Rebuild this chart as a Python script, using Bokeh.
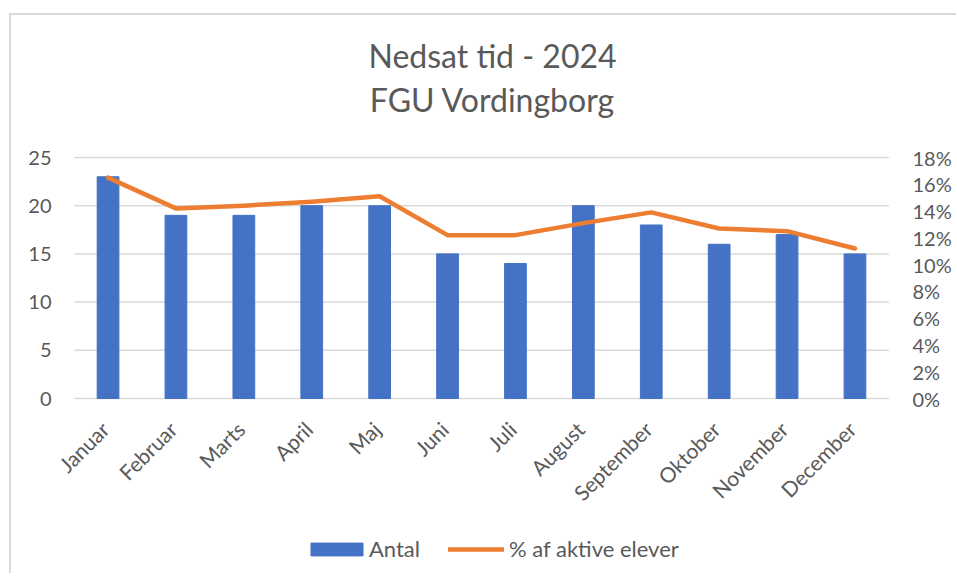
import math
from bokeh.plotting import figure
from bokeh.models import (Range1d, FactorRange, LinearAxis, FixedTicker, NumeralTickFormatter,
                          Legend, LegendItem, Label, ColumnDataSource)
from bokeh.core.properties import value
from bokeh.embed import file_html
from bokeh.resources import INLINE

months = ["Januar", "Februar", "Marts", "April", "Maj", "Juni", "Juli", "August",
          "September", "Oktober", "November", "December"]
antal = [23, 19, 19, 20, 20, 15, 14, 20, 18, 16, 17, 15]
pct = [0.165, 0.142, 0.144, 0.147, 0.151, 0.122, 0.122, 0.131, 0.139, 0.127, 0.125, 0.112]
left_ticks = [0, 5, 10, 15, 20, 25]
right_ticks = [0, 0.02, 0.04, 0.06, 0.08, 0.10, 0.12, 0.14, 0.16, 0.18]
title1 = "Nedsat tid - 2024"
title2 = "FGU Vordingborg"

FONT = "Lato"
GREY = "#595959"

# layout (pixels): frame spans the full height; value axis 0 at y=398, top tick at y=157
H = 573
Y0, YTOP = 398, 157
units_per_px = left_ticks[-1] / (Y0 - YTOP)
lo = -(H - Y0) * units_per_px
hi = Y0 * units_per_px
k = right_ticks[-1] / left_ticks[-1]

src = ColumnDataSource(dict(m=months, antal=antal, pct=pct))

xr = FactorRange(factors=months, range_padding=0.259, range_padding_units="absolute")
p = figure(x_range=xr, y_range=Range1d(lo, hi), frame_width=850, frame_height=H,
           output_backend="svg", toolbar_location=None, title=None, x_axis_location=None,
           min_border_left=56, min_border_right=50, min_border_top=0, min_border_bottom=0)
p.extra_y_ranges = {"pct": Range1d(lo * k, hi * k)}
p.outline_line_color = None
p.border_fill_color = None
p.background_fill_color = None
p.styles = {
    "background": "linear-gradient(#d9d9d9,#d9d9d9) 9px 13px / 2px 100% no-repeat, "
                  "linear-gradient(#d9d9d9,#d9d9d9) 9px 13px / 100% 2px no-repeat, white"
}

# horizontal gridlines spanning the category band only
p.xgrid.grid_line_color = None
p.ygrid.grid_line_color = None
p.segment(x0=0, x1=len(months), y0=left_ticks, y1=left_ticks,
          line_color="#D9D9D9", line_width=1.5)

bars = p.vbar(x="m", top="antal", width=0.32, source=src, color="#4472C4")
line = p.line(x="m", y="pct", source=src, y_range_name="pct", line_color="#ED7D31",
              line_width=4.5, line_cap="round", line_join="round")

# category labels under the bars
p.text(x="m", y=0, text="m", source=src, angle=math.pi / 4, text_align="right",
       text_baseline="top", x_offset=-12, y_offset=18, text_font=value(FONT),
       text_font_size="21px", text_color=GREY)

def style_axis(ax, standoff):
    ax.axis_line_color = None
    ax.major_tick_line_color = None
    ax.minor_tick_line_color = None
    ax.major_tick_out = 0
    ax.major_tick_in = 0
    ax.major_label_text_font = FONT
    ax.major_label_text_font_size = "20px"
    ax.major_label_text_color = GREY
    ax.major_label_standoff = standoff

p.yaxis.ticker = FixedTicker(ticks=left_ticks)
style_axis(p.yaxis[0], 5)

rax = LinearAxis(y_range_name="pct", ticker=FixedTicker(ticks=right_ticks),
                 formatter=NumeralTickFormatter(format="0%"))
style_axis(rax, 6)
p.add_layout(rax, "right")

# titles
for t, ypx in [(title1, 55), (title2, 99)]:
    p.add_layout(Label(x=len(months) / 2, y=(Y0 - ypx) * units_per_px, text=t,
                       x_offset=11, text_align="center", text_baseline="middle",
                       text_font=FONT, text_font_size="32px", text_color=GREY))

common = dict(orientation="horizontal", label_text_font=FONT, label_text_font_size="22px",
              label_text_color=GREY, padding=5, margin=0,
              background_fill_alpha=0, border_line_color=None)
leg1 = Legend(items=[LegendItem(label="Antal", renderers=[bars])], location=(248, 11),
              glyph_width=65, glyph_height=16, label_standoff=0, **common)
leg2 = Legend(items=[LegendItem(label="% af aktive elever", renderers=[line])],
              location=(392, 11), glyph_width=56, glyph_height=16, label_standoff=5, **common)
p.add_layout(leg1, "center")
p.add_layout(leg2, "center")

open("out.html", "w").write(file_html(p, INLINE))
